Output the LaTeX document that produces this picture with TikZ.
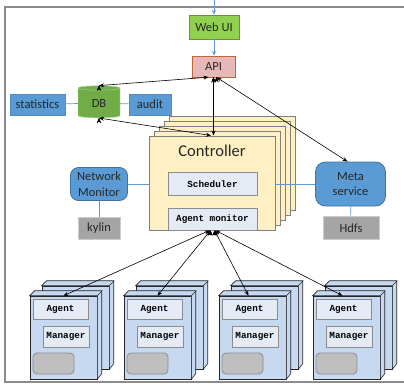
\documentclass[tikz,border=0pt]{standalone}
\usepackage{fontspec}
\setmainfont{Carlito}
\setmonofont{Liberation Mono}
\usetikzlibrary{shapes.geometric,arrows.meta}
\definecolor{webgreen}{HTML}{92D050}
\definecolor{apipink}{HTML}{E6B9B8}
\definecolor{apiedge}{HTML}{C0643C}
\definecolor{dbgreen}{HTML}{70AD47}
\definecolor{infoblue}{HTML}{5B9BD5}
\definecolor{serviceedge}{HTML}{41719C}
\definecolor{storegray}{HTML}{A5A5A5}
\definecolor{ctrlyellow}{HTML}{FFF0C4}
\definecolor{modblue}{HTML}{E4EBF5}
\definecolor{agentblue}{HTML}{C6D9F1}
\definecolor{linkblue}{HTML}{5B9BD5}
\begin{document}
\begin{tikzpicture}[x=1pt,y=-1pt,>={Stealth[length=5pt,width=4pt]}]
        \tikzstyle{lbl}=[inner sep=0pt,font=\fontsize{12.5}{15.5}\selectfont,text=black!85]
        \tikzstyle{flat}=[lbl,draw,minimum height=21pt]
        \tikzstyle{info}=[flat,fill=infoblue,draw=infoblue!90!black]
        \tikzstyle{store}=[flat,fill=storegray,draw=black!20]
        \tikzstyle{service}=[lbl,draw=serviceedge,fill=infoblue,rounded corners=8pt,align=center,line width=0.8pt]
        \tikzstyle{ctrl}=[draw=black!50,fill=ctrlyellow,line width=1pt,minimum width=126pt,minimum height=94pt,inner sep=0pt]
        \tikzstyle{module}=[draw=black!45,fill=modblue,line width=0.8pt,inner sep=0pt,font=\ttfamily\bfseries\fontsize{9.3}{10}\selectfont]
        \tikzstyle{face}=[draw=black!85,fill=agentblue,line width=0.6pt]
        \tikzstyle{link}=[draw=linkblue,line width=0.7pt]
        \tikzstyle{edge}=[draw,<->,line width=0.6pt]
        \useasboundingbox (0,0) rectangle (404,386);
        \draw[black!45,line width=1.3pt] (410,7) -- (5,7) -- (5,382) -- (410,382);
        % front end
        \coordinate (entry) at (214,-2);
        \node [flat,fill=webgreen,draw=webgreen!70!black,minimum width=50pt,minimum height=24pt] (web) at (214,27) {Web UI};
        \node [flat,fill=apipink,draw=apiedge,minimum width=43pt] (api) at (213.5,66.5) {API};
        \draw[link,->] (entry) -- (web.north);
        \draw[link,->] (web.south) -- (web.south |- api.north);
        % storage
        \node [cylinder,shape border rotate=90,aspect=0.3,draw=dbgreen!55!white,fill=dbgreen,minimum width=42pt,minimum height=32pt,lbl] (db) at (99,103) {DB};
        \node [info,minimum width=55pt] (stats) at (37.5,104.5) {statistics};
        \node [info,minimum width=42pt] (audit) at (150,104.5) {audit};
        \path[link] (stats) edge (db) (db) edge (audit);
        % controller
        \foreach \k in {4,3,2,1}
          \node [ctrl] (ctrl\k) at (212+5*\k,183-5*\k) {};
        \node [ctrl] (ctrl) at (212,183) {};
        \node [lbl,font=\fontsize{16.5}{18}\selectfont] (ctrltitle) at (212,151) {Controller};
        \node [module,minimum width=89pt,minimum height=23pt] (sched) at (212.5,184) {Scheduler};
        \node [module,minimum width=89pt,minimum height=22pt] (agmon) at (212.5,219) {Agent monitor};
        % services
        \node [service,minimum width=57pt,minimum height=33pt] (netmon) at (99,184) {Network\\Monitor};
        \node [store,minimum width=42pt,minimum height=22pt] (kylin) at (99,228) {kylin};
        \node [service,rounded corners=10pt,minimum width=70pt,minimum height=44pt] (meta) at (350.5,184) {Meta\\service};
        \node [store,minimum width=56pt,minimum height=23pt] (hdfs) at (351,228) {Hdfs};
        \path[link] (netmon.east) edge (netmon.east -| ctrl.west);
        \path[link] (meta.west) edge (meta.west -| ctrl.east);
        \path[link] (netmon) edge (kylin);
        \path[link] (meta) edge (hdfs);
        % agents
        \foreach \i/\x in {1/30,2/124,3/219,4/313} {
          \node [face,minimum width=67pt,minimum height=83pt,inner sep=0pt] (agb\i) at (\x+45.5,327.5) {};
          \path[face] (agb\i.north west) -- ++(5,-5) -- ++(67,0) -- ++(0,83) -- (agb\i.south east) -- (agb\i.north east) -- cycle;
          \draw[black!85,line width=0.6pt] (agb\i.north east) -- ++(5,-5);
          \node [face,minimum width=67pt,minimum height=83pt,inner sep=0pt] (ag\i) at (\x+33.5,337.5) {};
          \path[face] (ag\i.north west) -- ++(5,-5) -- ++(67,0) -- ++(0,83) -- (ag\i.south east) -- (ag\i.north east) -- cycle;
          \draw[black!85,line width=0.6pt] (ag\i.north east) -- ++(5,-5);
          \node [module,minimum width=55pt,minimum height=20pt] (agent\i) at (\x+30.5,309) {Agent};
          \node [module,minimum width=46pt,minimum height=21pt] (mgr\i) at (\x+36,336.5) {Manager};
          \node [draw=black!45,fill=black!25,line width=0.8pt,rounded corners=4pt,minimum width=41pt,minimum height=21pt] (disk\i) at (\x+23.5,363.5) {};
        }
        % calls
        \path[edge] (db.north) edge ([xshift=-5pt]api.south);
        \path[edge] (db.south) edge ([xshift=-1pt]ctrl.north);
        \path[edge] (api.south) edge (api.south |- ctrl.north);
        \path[edge] ([xshift=3pt]api.south) edge ([xshift=-3pt]meta.north);
        \path[edge] ([xshift=-3pt]agmon.south) edge (ag1.north);
        \path[edge] ([xshift=-2pt]agmon.south) edge (ag2.north);
        \path[edge] ([xshift=2pt]agmon.south) edge ([xshift=-4pt]ag3.north);
        \path[edge] ([xshift=3pt]agmon.south) edge ([xshift=-4pt]ag4.north);
\end{tikzpicture}
\end{document}
